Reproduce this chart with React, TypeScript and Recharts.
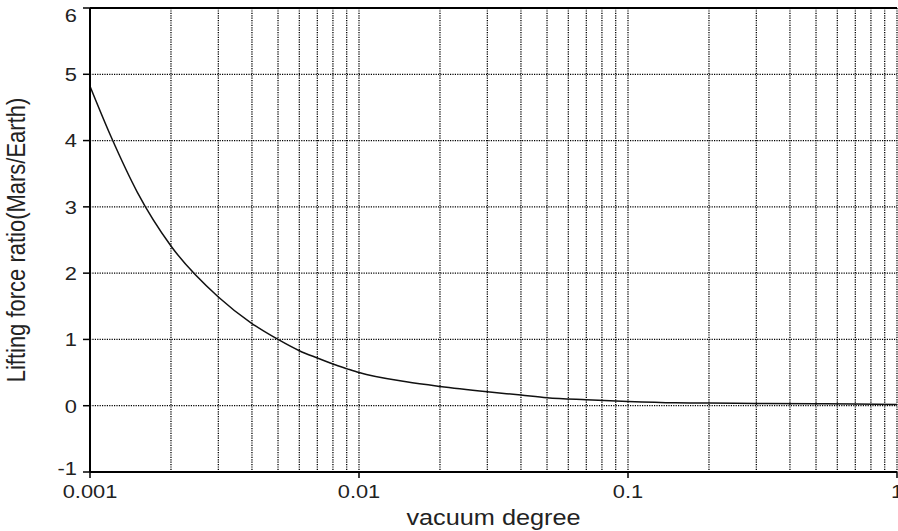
import { CartesianGrid, Line, LineChart, ReferenceLine, XAxis, YAxis } from "recharts";

// vacuum degree (log axis) and lifting force ratio
const vacuum = [
  0.001, 0.0012, 0.0015, 0.002, 0.003, 0.004, 0.005, 0.006, 0.007, 0.008, 0.009,
  0.01, 0.015, 0.02, 0.03, 0.04, 0.05, 0.07, 0.1, 0.15, 0.2, 0.3, 0.5, 0.7, 1,
];
const ratio = [
  4.82, 4.05, 3.22, 2.41, 1.64, 1.24, 1.0, 0.83, 0.72, 0.63, 0.56,
  0.5, 0.36, 0.29, 0.21, 0.16, 0.12, 0.09, 0.065, 0.045, 0.04, 0.035, 0.03, 0.025, 0.02,
];

const xGrid = [
  0.001, 0.002, 0.003, 0.004, 0.005, 0.006, 0.007, 0.008, 0.009,
  0.01, 0.02, 0.03, 0.04, 0.05, 0.06, 0.07, 0.08, 0.09,
  0.1, 0.2, 0.3, 0.4, 0.5, 0.6, 0.7, 0.8, 0.9, 1,
];
const xLabels = [0.001, 0.01, 0.1, 1];
const yTicks = [-1, 0, 1, 2, 3, 4, 5, 6];

const data = vacuum.map((v, i) => ({ vacuum: v, ratio: ratio[i] }));

const FONT = "'Liberation Sans', Arial, sans-serif";
const STRETCH = 1.15;

function XTick(props: any) {
  const { x, y, payload } = props;
  if (!xLabels.includes(payload.value)) return null;
  return (
    <g>
      <line x1={x} x2={x} y1={y} y2={y + 6} stroke="#000" strokeWidth={1.5} />
      <g transform={`translate(${x},${y + 26}) scale(${STRETCH},1)`}>
        <text textAnchor="middle" fontFamily={FONT} fontSize={19} fill="#222">
          {String(payload.value)}
        </text>
      </g>
    </g>
  );
}

function YTick(props: any) {
  const { x, y, payload } = props;
  // the end labels are kept inside the plot's height, as in the original
  const shift = payload.value === 6 ? 7 : payload.value === -1 ? -4 : 0;
  return (
    <g transform={`translate(${x},${y + shift}) scale(${STRETCH},1)`}>
      <text textAnchor="end" dy="0.36em" fontFamily={FONT} fontSize={19} fill="#222">
        {payload.value}
      </text>
    </g>
  );
}

function XTitle(props: any) {
  const vb = props.viewBox || { x: 90, y: 472, width: 807, height: 59 };
  const cx = vb.x + vb.width / 2;
  return (
    <g transform={`translate(${cx},${vb.y + vb.height - 6}) scale(${STRETCH},1)`}>
      <text textAnchor="middle" fontFamily={FONT} fontSize={22} fill="#222">
        vacuum degree
      </text>
    </g>
  );
}

function YTitle(props: any) {
  const vb = props.viewBox || { x: 0, y: 8, width: 90, height: 464 };
  const cy = vb.y + vb.height / 2;
  return (
    <g transform={`translate(${vb.x + 25},${cy}) scale(${STRETCH},1) rotate(-90)`}>
      <text textAnchor="middle" fontFamily={FONT} fontSize={22} fill="#222">
        Lifting force ratio(Mars/Earth)
      </text>
    </g>
  );
}

export default function App() {
  return (
    <div style={{ position: "absolute", left: 0, top: 0, background: "#fff" }}>
      <LineChart
        width={898}
        height={531}
        data={data}
        margin={{ top: 8, right: 1, bottom: 0, left: 0 }}
      >
        <CartesianGrid stroke="#000" strokeWidth={1.3} strokeDasharray="1.2 1.2" />
        <XAxis
          dataKey="vacuum"
          type="number"
          scale="log"
          domain={[0.001, 1]}
          ticks={xGrid}
          interval={0}
          allowDataOverflow
          height={59}
          tickSize={0}
          tickMargin={0}
          tickLine={false}
          tick={<XTick />}
          axisLine={{ stroke: "#000", strokeWidth: 2 }}
          label={<XTitle />}
        />
        <YAxis
          type="number"
          domain={[-1, 6]}
          ticks={yTicks}
          interval={0}
          width={90}
          tickSize={7}
          tickMargin={6}
          tickLine={{ stroke: "#000", strokeWidth: 1.5 }}
          tick={<YTick />}
          axisLine={{ stroke: "#000", strokeWidth: 2 }}
          label={<YTitle />}
        />
        <ReferenceLine y={6} stroke="#000" strokeWidth={2} />
        <Line
          type="monotone"
          dataKey="ratio"
          stroke="#111"
          strokeWidth={1.5}
          dot={false}
          isAnimationActive={false}
        />
      </LineChart>
    </div>
  );
}
